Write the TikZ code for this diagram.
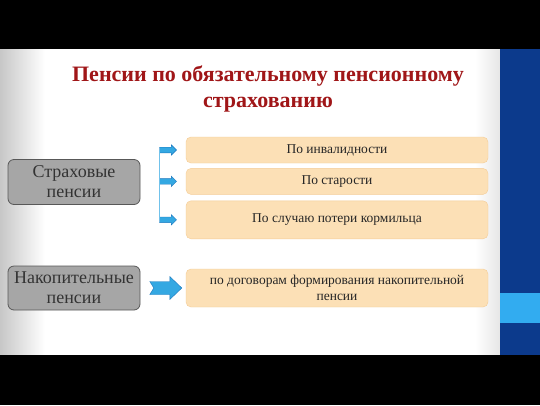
\documentclass[tikz,border=0pt]{standalone}
\usepackage{fontspec}
\setmainfont{Liberation Serif}
\usetikzlibrary{shapes.arrows, positioning}
\definecolor{titlered}{RGB}{160,22,24}
\definecolor{boxgray}{RGB}{166,166,166}
\definecolor{boxedge}{RGB}{88,88,88}
\definecolor{kindfill}{RGB}{252,224,182}
\definecolor{kindedge}{RGB}{244,204,150}
\definecolor{arrowblue}{RGB}{52,168,226}
\definecolor{arrowedge}{RGB}{28,120,190}
\definecolor{stripedark}{RGB}{12,58,140}
\definecolor{stripelight}{RGB}{50,172,240}

\begin{document}
\begin{tikzpicture}[
    x=1pt, y=-1pt,
    grouping/.style={rectangle, rounded corners=6pt, draw=boxedge, fill=boxgray, line width=0.8pt, minimum width=132pt, minimum height=45pt, align=center, text=black!80, font=\fontsize{18}{20}\selectfont},
    kind/.style={rectangle, rounded corners=5pt, draw=kindedge, fill=kindfill, minimum width=302pt, align=center, text=black!85, font=\fontsize{13.5}{16}\selectfont},
    pointer/.style={single arrow, draw=arrowedge, fill=arrowblue, line width=0.4pt, minimum height=17pt, inner xsep=0pt, inner ysep=2.6pt, single arrow head extend=2.4pt}
]
\useasboundingbox (0,0) rectangle (540,405);

% slide frame
\fill[white] (0,40) rectangle (500,365);
\shade[left color=black!22, right color=white] (0,40) rectangle (45,365);
\shade[left color=white, right color=black!10] (475,40) rectangle (500,365);
\fill[stripedark] (500,40) rectangle (540,365);
\fill[stripelight] (500,293) rectangle (540,323);
\fill[black] (0,0) rectangle (540,49);
\fill[black] (0,355) rectangle (540,405);

% title
\node[text=titlered, font=\fontsize{22}{26}\selectfont\bfseries, align=center] (title) at (268,89) {Пенсии по обязательному пенсионному\\страхованию};

% left groups
\node[grouping] (insur) at (74,182) {Страховые\\пенсии};
\node[grouping, minimum height=44pt] (funded) at (74,288) {Накопительные\\пенсии};

% right kinds
\node[kind, minimum height=26pt] (disab) at (337,150) {По инвалидности};
\node[kind, minimum height=26pt, below=5pt of disab] (oldage) {По старости};
\node[kind, minimum height=38pt, below=6pt of oldage] (loss) {По случаю потери кормильца};
\node[kind, minimum height=38pt] (contract) at (337,288) {по договорам формирования накопительной\\пенсии};

% connectors
\node[pointer, left=9pt of disab] (p1) {};
\node[pointer, left=9pt of oldage] (p2) {};
\node[pointer, left=9pt of loss] (p3) {};
\draw[arrowblue!70, line width=0.8pt] (p1.west) -- (p3.west);

\coordinate[left=4pt of contract] (bigtip);
\filldraw[fill=arrowblue, draw=arrowedge, line width=0.4pt] (bigtip) -- ++(-12,-11.5) -- ++(0,5) -- ++(-20,0) -- ++(4,6.5) -- ++(-4,6.5) -- ++(20,0) -- ++(0,5) -- cycle;

\end{tikzpicture}
\end{document}
